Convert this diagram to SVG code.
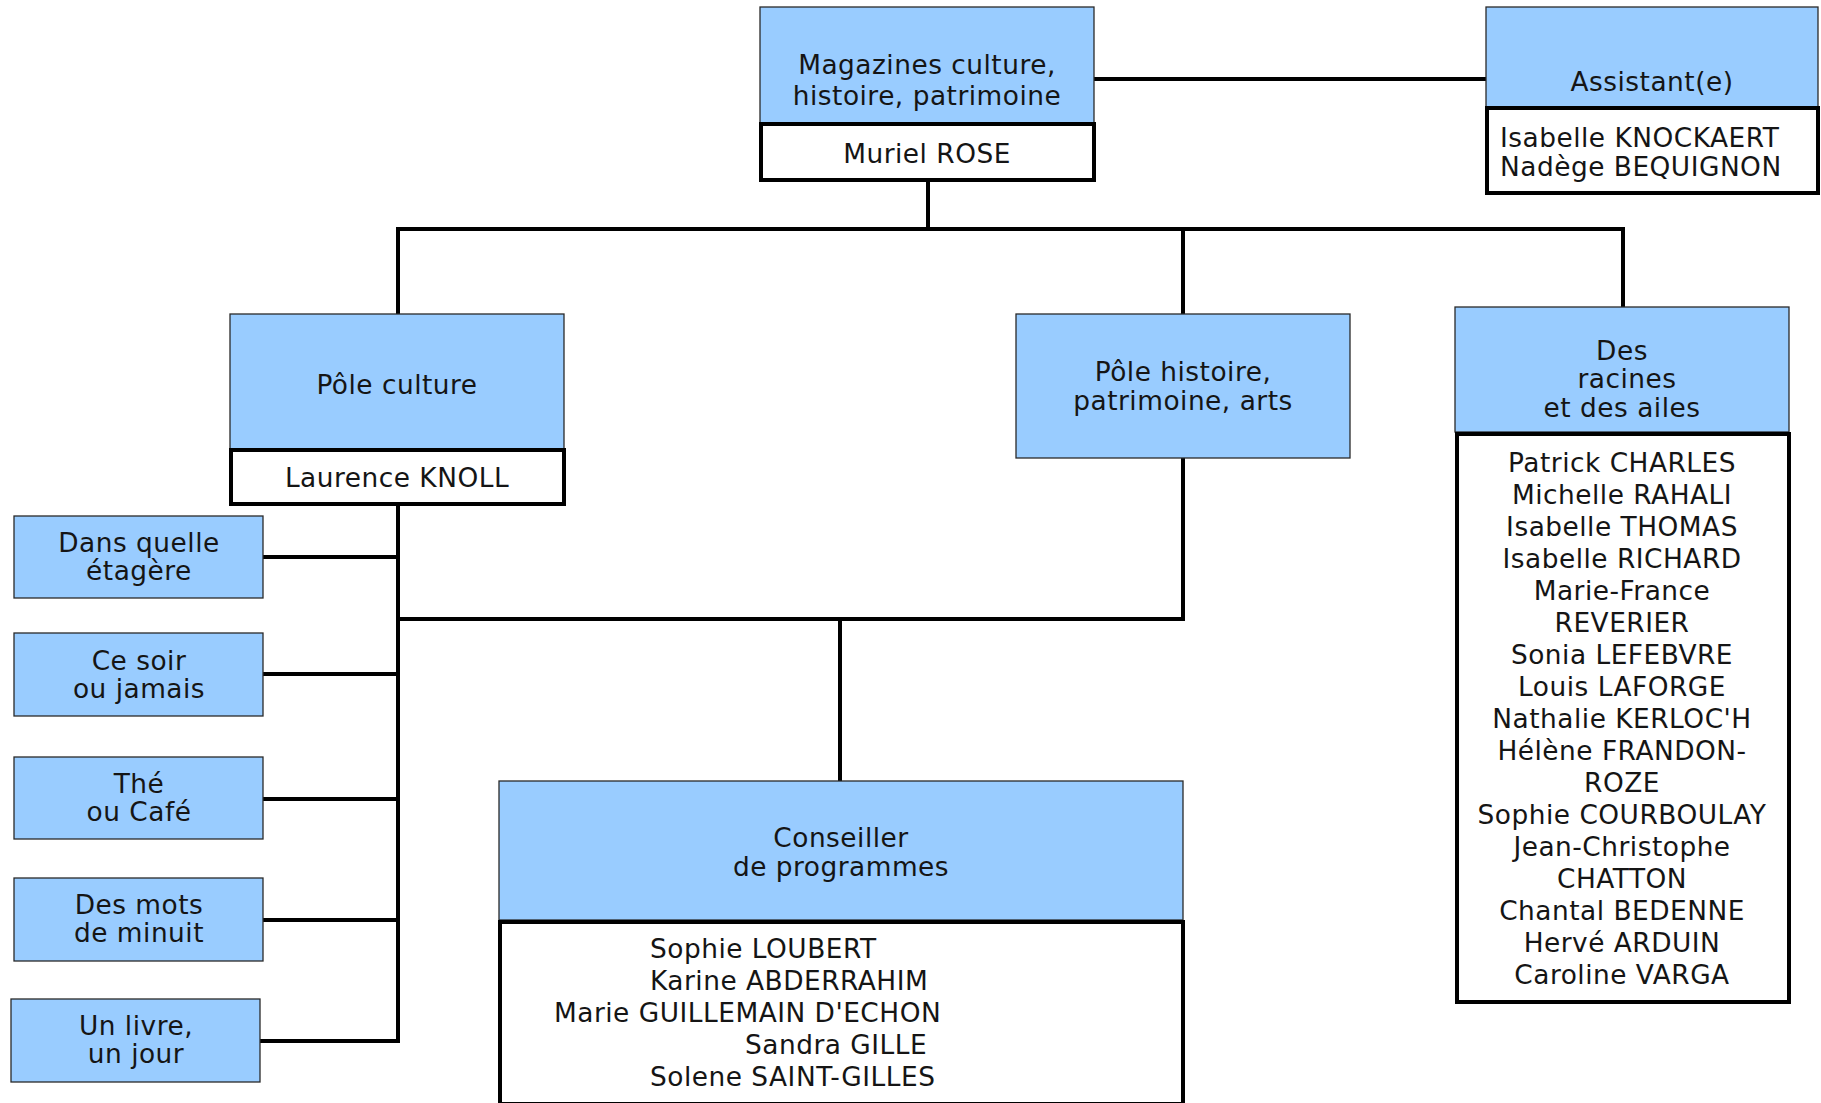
<svg xmlns="http://www.w3.org/2000/svg" width="1821" height="1103" viewBox="0 0 1821 1103">
<style>
  .blue { fill: #99CCFF; stroke: #2a2a2a; stroke-width: 1.3; }
  .white { fill: #FFFFFF; stroke: #000000; stroke-width: 4; }
  .t { font-family: "DejaVu Sans", Verdana, sans-serif; font-size: 26.4px; letter-spacing: 0.5px; fill: #151515; }
  .c { text-anchor: middle; }
  .conn { fill: none; stroke: #000000; stroke-width: 4; stroke-linecap: square; }
</style>
<rect width="1821" height="1103" fill="#FFFFFF"/>

<g id="connectors">
  <polyline class="conn" points="928,182 928,229"/>
  <polyline class="conn" points="398,229 1623,229"/>
  <polyline class="conn" points="398,229 398,314"/>
  <polyline class="conn" points="1183,229 1183,314"/>
  <polyline class="conn" points="1623,229 1623,307"/>
  <polyline class="conn" points="1096,79 1486,79"/>
  <polyline class="conn" points="398,506 398,1041 260,1041"/>
  <polyline class="conn" points="263,557 398,557"/>
  <polyline class="conn" points="263,674 398,674"/>
  <polyline class="conn" points="263,799 398,799"/>
  <polyline class="conn" points="263,920 398,920"/>
  <polyline class="conn" points="1183,458 1183,619 398,619"/>
  <polyline class="conn" points="840,619 840,781"/>
</g>

<g id="node-magazines">
  <rect class="blue" x="760" y="7" width="334" height="116"/>
  <text class="t c" x="927" y="74">Magazines culture,</text>
  <text class="t c" x="927" y="105">histoire, patrimoine</text>
  <rect class="white" x="761" y="124" width="333" height="56"/>
  <text class="t c" x="927" y="163">Muriel ROSE</text>
</g>

<g id="node-assistant">
  <rect class="blue" x="1486" y="7" width="332" height="100"/>
  <text class="t c" x="1652" y="91">Assistant(e)</text>
  <rect class="white" x="1487" y="108" width="331" height="85"/>
  <text class="t" x="1500" y="147">Isabelle KNOCKAERT</text>
  <text class="t" x="1500" y="176">Nadège BEQUIGNON</text>
</g>

<g id="node-pole-culture">
  <rect class="blue" x="230" y="314" width="334" height="135"/>
  <text class="t c" x="397" y="394">Pôle culture</text>
  <rect class="white" x="231" y="450" width="333" height="54"/>
  <text class="t c" x="397" y="487">Laurence KNOLL</text>
</g>

<g id="node-pole-histoire">
  <rect class="blue" x="1016" y="314" width="334" height="144"/>
  <text class="t c" x="1183" y="381">Pôle histoire,</text>
  <text class="t c" x="1183" y="410">patrimoine, arts</text>
</g>

<g id="node-des-racines">
  <rect class="blue" x="1455" y="307" width="334" height="125"/>
  <text class="t c" x="1622" y="360">Des</text>
  <text class="t c" x="1627" y="388">racines</text>
  <text class="t c" x="1622" y="417">et des ailes</text>
  <rect class="white" x="1457" y="434" width="332" height="568"/>
  <text class="t c" x="1622" y="472">Patrick CHARLES</text>
  <text class="t c" x="1622" y="504">Michelle RAHALI</text>
  <text class="t c" x="1622" y="536">Isabelle THOMAS</text>
  <text class="t c" x="1622" y="568">Isabelle RICHARD</text>
  <text class="t c" x="1622" y="600">Marie-France</text>
  <text class="t c" x="1622" y="632">REVERIER</text>
  <text class="t c" x="1622" y="664">Sonia LEFEBVRE</text>
  <text class="t c" x="1622" y="696">Louis LAFORGE</text>
  <text class="t c" x="1622" y="728">Nathalie KERLOC'H</text>
  <text class="t c" x="1622" y="760">Hélène FRANDON-</text>
  <text class="t c" x="1622" y="792">ROZE</text>
  <text class="t c" x="1622" y="824">Sophie COURBOULAY</text>
  <text class="t c" x="1622" y="856">Jean-Christophe</text>
  <text class="t c" x="1622" y="888">CHATTON</text>
  <text class="t c" x="1622" y="920">Chantal BEDENNE</text>
  <text class="t c" x="1622" y="952">Hervé ARDUIN</text>
  <text class="t c" x="1622" y="984">Caroline VARGA</text>
</g>

<g id="node-dans-quelle">
  <rect class="blue" x="14" y="516" width="249" height="82"/>
  <text class="t c" x="139" y="552">Dans quelle</text>
  <text class="t c" x="139" y="580">étagère</text>
</g>

<g id="node-ce-soir">
  <rect class="blue" x="14" y="633" width="249" height="83"/>
  <text class="t c" x="139" y="670">Ce soir</text>
  <text class="t c" x="139" y="698">ou jamais</text>
</g>

<g id="node-the">
  <rect class="blue" x="14" y="757" width="249" height="82"/>
  <text class="t c" x="139" y="793">Thé</text>
  <text class="t c" x="139" y="821">ou Café</text>
</g>

<g id="node-des-mots">
  <rect class="blue" x="14" y="878" width="249" height="83"/>
  <text class="t c" x="139" y="914">Des mots</text>
  <text class="t c" x="139" y="942">de minuit</text>
</g>

<g id="node-un-livre">
  <rect class="blue" x="11" y="999" width="249" height="83"/>
  <text class="t c" x="136" y="1035">Un livre,</text>
  <text class="t c" x="136" y="1063">un jour</text>
</g>

<g id="node-conseiller">
  <rect class="blue" x="499" y="781" width="684" height="139"/>
  <text class="t c" x="841" y="847">Conseiller</text>
  <text class="t c" x="841" y="876">de programmes</text>
  <rect class="white" x="500" y="922" width="683" height="182"/>
  <text class="t" x="650" y="958">Sophie LOUBERT</text>
  <text class="t" x="650" y="990">Karine ABDERRAHIM</text>
  <text class="t" x="554" y="1022">Marie GUILLEMAIN D'ECHON</text>
  <text class="t" x="745" y="1054">Sandra GILLE</text>
  <text class="t" x="650" y="1086">Solene SAINT-GILLES</text>
</g>
</svg>
